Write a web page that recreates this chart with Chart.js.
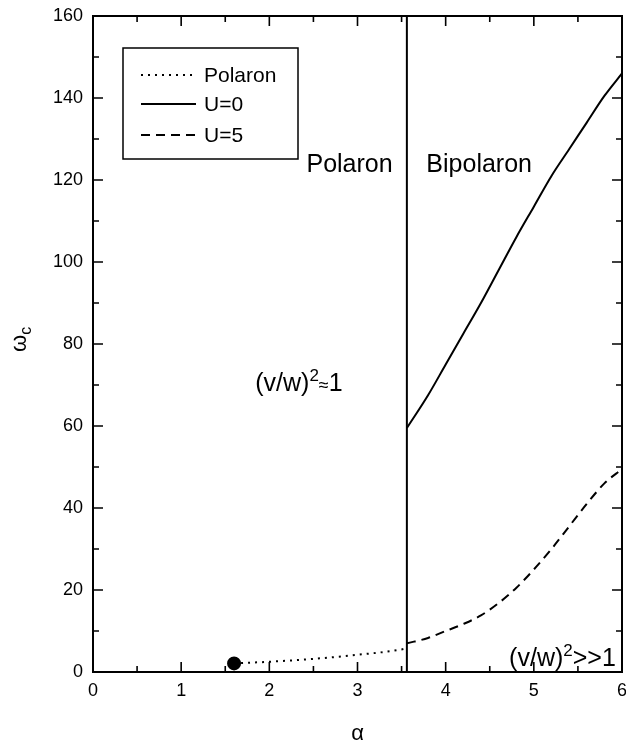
<!DOCTYPE html>
<html>
<head>
<meta charset="utf-8">
<script src="https://cdn.jsdelivr.net/npm/chart.js@4.4.0/dist/chart.umd.min.js"></script>
<style>
  body { margin: 0; background: #fff; overflow: hidden; }
  #wrap { width: 626px; height: 747px; overflow: hidden; }
  canvas { display: block; }
</style>
</head>
<body>
<div id="wrap"><canvas id="phase" width="630" height="747"></canvas></div>
<script>
// values
const polaronAlpha = [1.6, 2.0, 2.5, 3.0, 3.5, 3.56];
const polaronOmega = [2.1, 2.5, 3.2, 4.2, 5.5, 5.8];

const bipAlpha = [3.56, 3.8, 4.0, 4.2, 4.4, 4.6, 4.8, 5.0, 5.2, 5.4, 5.6, 5.8, 6.0];
const u0Omega = [59.5, 67.5, 75, 82.5, 90, 98, 106, 113.5, 121, 127.5, 134, 140.5, 146];
const u5Omega = [7, 8.3, 10, 11.7, 13.8, 16.8, 20.5, 25, 30, 35.5, 41, 46, 49.5];

const boundaryAlpha = [3.56, 3.56];
const boundaryOmega = [0, 160];

const xMajor = [0, 1, 2, 3, 4, 5, 6];
const yMajor = [0, 20, 40, 60, 80, 100, 120, 140, 160];

const toPoints = (xs, ys) => xs.map((x, i) => ({ x: x, y: ys[i] }));

const canvas = document.getElementById("phase");
const context = canvas.getContext("2d");
const FONT = "'Liberation Sans', Arial, Helvetica, sans-serif";

// draws a row of text pieces, some raised as superscripts
function richText(ctx, x, y, parts, align) {
    let total = 0;
    parts.forEach(p => { ctx.font = p.size + "px " + FONT; total += ctx.measureText(p.t).width; });
    let cx = align === "right" ? x - total : (align === "center" ? x - total / 2 : x);
    ctx.textBaseline = "alphabetic";
    ctx.textAlign = "left";
    parts.forEach(p => {
        ctx.font = p.size + "px " + FONT;
        ctx.fillText(p.t, cx, y - (p.up || 0));
        cx += ctx.measureText(p.t).width;
    });
}

const frame = {
    id: "frame",
    afterDraw(chart) {
        const ctx = chart.ctx;
        const a = chart.chartArea;
        const xs = chart.scales.x, ys = chart.scales.y;
        ctx.save();
        ctx.strokeStyle = "#000";
        ctx.fillStyle = "#000";

        // box
        ctx.lineWidth = 2;
        ctx.strokeRect(a.left, a.top, a.right - a.left, a.bottom - a.top);

        // inward ticks on all four sides
        ctx.lineWidth = 1.6;
        for (let v = 0; v <= 6.001; v += 0.5) {
            const px = xs.getPixelForValue(v);
            const len = Number.isInteger(v) ? 10 : 6;
            ctx.beginPath();
            ctx.moveTo(px, a.bottom); ctx.lineTo(px, a.bottom - len);
            ctx.moveTo(px, a.top); ctx.lineTo(px, a.top + len);
            ctx.stroke();
        }
        for (let v = 0; v <= 160; v += 10) {
            const py = ys.getPixelForValue(v);
            const len = v % 20 === 0 ? 10 : 6;
            ctx.beginPath();
            ctx.moveTo(a.left, py); ctx.lineTo(a.left + len, py);
            ctx.moveTo(a.right, py); ctx.lineTo(a.right - len, py);
            ctx.stroke();
        }

        // region labels
        const X = v => xs.getPixelForValue(v), Y = v => ys.getPixelForValue(v);
        richText(ctx, X(2.91), Y(122), [{ t: "Polaron", size: 25 }], "center");
        richText(ctx, X(4.38), Y(122), [{ t: "Bipolaron", size: 25 }], "center");
        richText(ctx, X(1.84), Y(68.5), [
            { t: "(v/w)", size: 25 }, { t: "2", size: 17, up: 10 },
            { t: "\u2248", size: 18 }, { t: "1", size: 25 }], "left");
        richText(ctx, X(5.93), Y(1.5), [
            { t: "(v/w)", size: 25 }, { t: "2", size: 17, up: 10 },
            { t: ">>1", size: 25 }], "right");

        // y axis title: omega with subscript c, rotated
        ctx.save();
        ctx.translate(26, 352);
        ctx.rotate(-Math.PI / 2);
        ctx.textAlign = "left";
        ctx.textBaseline = "alphabetic";
        ctx.font = "22px " + FONT;
        ctx.fillText("\u03c9", 0, 0);
        const w = ctx.measureText("\u03c9").width;
        ctx.font = "16px " + FONT;
        ctx.fillText("c", w, 5);
        ctx.restore();

        // legend box
        const lx = 123, ly = 48, lw = 175, lh = 111;
        ctx.fillStyle = "#fff";
        ctx.fillRect(lx, ly, lw, lh);
        ctx.lineWidth = 1.5;
        ctx.strokeRect(lx, ly, lw, lh);
        const rows = [75, 104, 135];
        chart.data.datasets.filter(d => d.inLegend).forEach((d, i) => {
            ctx.beginPath();
            ctx.setLineDash(d.borderDash || []);
            ctx.lineWidth = d.borderWidth;
            ctx.moveTo(141, rows[i]);
            ctx.lineTo(196, rows[i]);
            ctx.stroke();
            ctx.setLineDash([]);
            ctx.fillStyle = "#000";
            ctx.font = "21px " + FONT;
            ctx.textBaseline = "middle";
            ctx.textAlign = "left";
            ctx.fillText(d.label, 204, rows[i] + 1);
        });
        ctx.restore();
    }
};

const chart = new Chart(context, {
    type: "scatter",
    data: {
        datasets: [
            {
                label: "Polaron",
                inLegend: true,
                data: toPoints(polaronAlpha, polaronOmega),
                showLine: true,
                borderColor: "#000",
                backgroundColor: "#000",
                borderWidth: 2,
                borderDash: [2, 5],
                pointRadius: polaronAlpha.map((v, i) => i === 0 ? 6 : 0),
                cubicInterpolationMode: "monotone"
            },
            {
                label: "U=0",
                inLegend: true,
                data: toPoints(bipAlpha, u0Omega),
                showLine: true,
                borderColor: "#000",
                borderWidth: 2,
                pointRadius: 0,
                cubicInterpolationMode: "monotone"
            },
            {
                label: "U=5",
                inLegend: true,
                data: toPoints(bipAlpha, u5Omega),
                showLine: true,
                borderColor: "#000",
                borderWidth: 2,
                borderDash: [9, 6],
                pointRadius: 0,
                cubicInterpolationMode: "monotone"
            },
            {
                label: "boundary",
                data: toPoints(boundaryAlpha, boundaryOmega),
                showLine: true,
                borderColor: "#000",
                borderWidth: 2,
                pointRadius: 0
            }
        ]
    },
    options: {
        responsive: false,
        animation: false,
        layout: { padding: { top: 16, right: 0, left: 0, bottom: 0 } },
        plugins: { legend: { display: false }, tooltip: { enabled: false } },
        scales: {
            x: {
                type: "linear",
                min: 0,
                max: 6,
                afterBuildTicks: s => { s.ticks = xMajor.map(v => ({ value: v })); },
                afterFit: s => { s.height = 75; s.paddingLeft = 0; s.paddingRight = 0; },
                grid: { display: false, drawTicks: false },
                border: { display: false },
                ticks: { color: "#000", padding: 8, font: { family: FONT, size: 18 } },
                title: { display: true, text: "\u03b1", color: "#000", padding: { top: 0, bottom: 0 }, font: { family: FONT, size: 22 } }
            },
            y: {
                type: "linear",
                min: 0,
                max: 160,
                afterBuildTicks: s => { s.ticks = yMajor.map(v => ({ value: v })); },
                afterFit: s => { s.width = 93; s.paddingTop = 0; s.paddingBottom = 0; },
                grid: { display: false, drawTicks: false },
                border: { display: false },
                ticks: { color: "#000", padding: 10, font: { family: FONT, size: 18 } }
            }
        }
    },
    plugins: [frame]
});
</script>
</body>
</html>
